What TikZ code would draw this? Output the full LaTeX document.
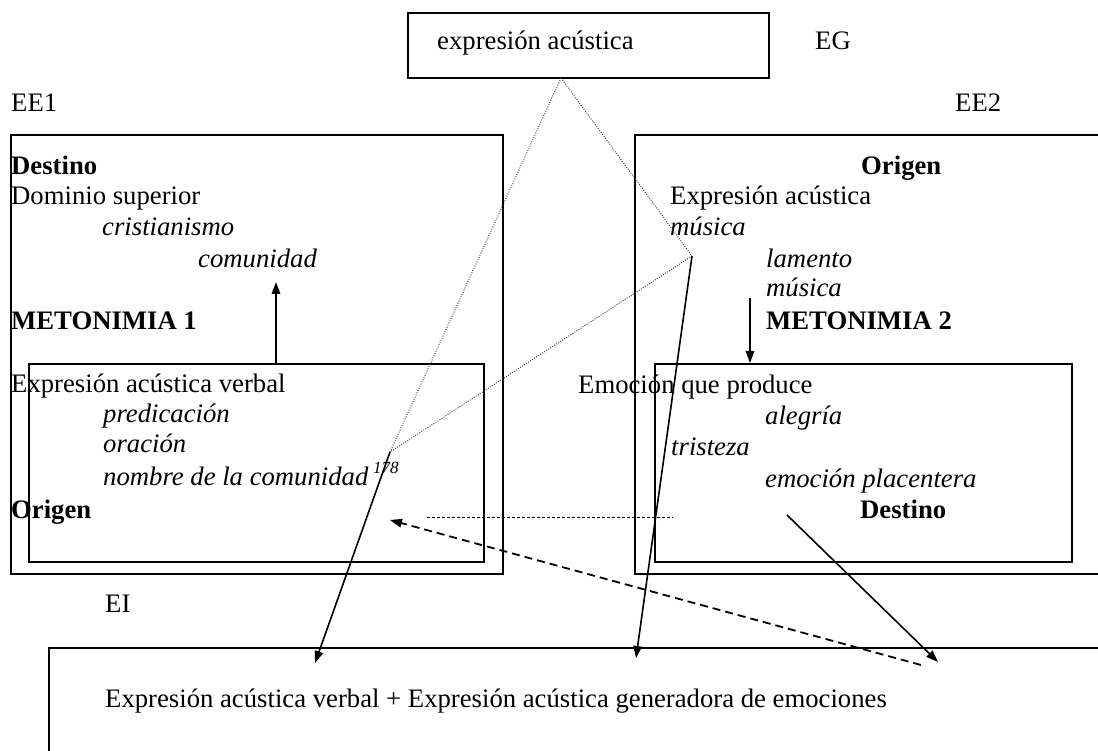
\documentclass[tikz,border=0pt]{standalone}
\usepackage{fontspec}
\setmainfont{Liberation Serif}
\usetikzlibrary{arrows.meta}
\begin{document}
\begin{tikzpicture}[x=1pt,y=-1pt,
  txt/.style={anchor=base west, inner sep=0pt, font=\fontsize{26.7}{31}\selectfont},
  itx/.style={txt, font=\fontsize{26.7}{31}\selectfont\itshape},
  btx/.style={txt, font=\fontsize{26.7}{31}\selectfont\bfseries},
  boxline/.style={line width=1.6pt},
  dotline/.style={line width=0.9pt, black!75, dash pattern=on 1pt off 1.4pt},
  arr/.style={line width=1.6pt, -{Triangle[length=12pt,width=8.5pt]}},
  bigdash/.style={line width=1.8pt, dash pattern=on 8pt off 5pt, -{Triangle[length=12pt,width=8.5pt]}},
  finedash/.style={line width=1pt, dash pattern=on 3pt off 2pt}]
\useasboundingbox (0,0) rectangle (1098,751);
\clip (0,0) rectangle (1098,751);
\fill[white] (0,0) rectangle (1098,751);

% boxes
\draw[line width=1.4pt] (408,13) rectangle (769,78);
\draw[boxline] (11,135) rectangle (503,574);
\draw[boxline] (29,364) rectangle (484,562);
\draw[boxline] (635,135) rectangle (1112,574);
\draw[boxline] (655,364) rectangle (1072,562);
\draw[line width=1.4pt] (49,648) rectangle (1112,770);

% labels
\node[txt] (ea) at (437,50) {expresión acústica};
\node[txt] (eg) at (815,50) {EG};
\node[txt] (ee1) at (11,112) {EE1};
\node[txt] (ee2) at (955,112) {EE2};
\node[txt] (ei) at (105,612) {EI};

% left box
\node[btx] (destL) at (11,175) {Destino};
\node[txt] (dom) at (11,205) {Dominio superior};
\node[itx] (crist) at (102,236) {cristianismo};
\node[itx] (comu) at (198,268) {comunidad};
\node[btx] (met1) at (11,330) {METONIMIA 1};
\node[txt] (eav) at (11,392) {Expresión acústica verbal};
\node[itx] (pred) at (103,422) {predicación};
\node[itx] (orac) at (103,452) {oración};
\node[itx] (nom) at (103,485) {nombre de la comunidad};
\node[anchor=base west, inner sep=0pt, font=\fontsize{17}{20}\selectfont\itshape] (sup) at (373,473) {178};
\node[btx] (origL) at (11,518) {Origen};

% right box
\node[btx] (origR) at (861,175) {Origen};
\node[txt] (exac) at (670,205) {Expresión acústica};
\node[itx] (mus1) at (670,236) {música};
\node[itx] (lam) at (766,268) {lamento};
\node[itx] (mus2) at (766,297) {música};
\node[btx] (met2) at (766,330) {METONIMIA 2};
\node[txt] (emo) at (578,393) {Emoción que produce};
\node[itx] (aleg) at (765,424) {alegría};
\node[itx] (trist) at (671,455) {tristeza};
\node[itx] (emop) at (765,487) {emoción placentera};
\node[btx] (destR) at (860,518) {Destino};

% bottom
\node[txt] (bot) at (105,707) {Expresión acústica verbal + Expresión acústica generadora de emociones};

% connector points
\coordinate (apex) at (561,78);
\coordinate (vL) at (390,452);
\coordinate (vR) at (692,256);
\coordinate (t1) at (315,663);
\coordinate (t2) at (636,658);
\coordinate (s3) at (787,515);
\coordinate (t3) at (938,662);
\coordinate (d1) at (921,665);
\coordinate (d2) at (390,520);
\coordinate (h1) at (427,517);
\coordinate (h2) at (673,517);
\coordinate (upA) at (276,364);
\coordinate (upB) at (276,282);
\coordinate (dnA) at (750,298);
\coordinate (dnB) at (750,363);

% dotted triangle
\draw[dotline] (apex) -- (vL);
\draw[dotline] (apex) -- (vR);
\draw[dotline] (vR) -- (vL);

% arrows
\draw[arr] (upA) -- (upB);
\draw[arr] (dnA) -- (dnB);
\draw[arr] (vL) -- (t1);
\draw[arr] (vR) -- (t2);
\draw[arr] (s3) -- (t3);
\draw[bigdash] (d1) -- (d2);
\draw[finedash] (h1) -- (h2);
\end{tikzpicture}
\end{document}
